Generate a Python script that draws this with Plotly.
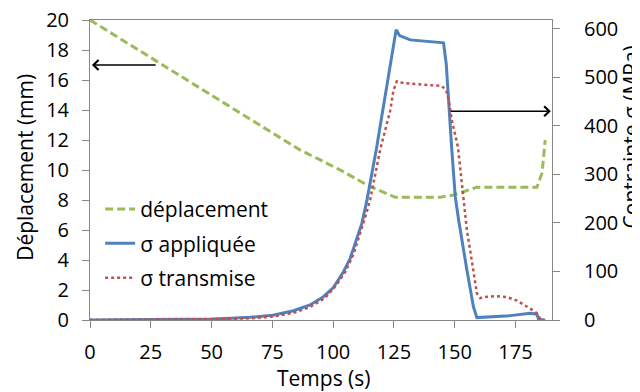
import plotly.graph_objects as go

# displacement (mm), left axis
t_dep = [0, 25, 50, 86.4, 94.7, 104.2, 113.9, 120.7, 125.5, 144, 149.5, 153.6, 159,
         183.8, 185.9, 187.2]
dep = [20, 17.5, 15.0, 11.33, 10.67, 9.89, 9.0, 8.49, 8.18, 8.18, 8.33, 8.55, 8.85,
       8.85, 9.8, 12.0]

# applied stress (MPa), right axis
t_app = [0, 20, 40, 50, 58, 65.8, 75.2, 83.7, 90.5, 96, 100.1, 104.2, 107, 109.7,
         111.8, 113.9, 117.7, 125.9, 127.3, 131.7, 138.5, 145.4, 146.5, 147.5, 148.8,
         150.2, 151.6, 155, 157.7, 159.1, 164.6, 172.8, 181, 183.8, 184.5, 187.2]
app = [0, 0.5, 1, 2, 3.5, 5.5, 10, 19, 31, 48, 67, 99, 127, 165,
       199, 247, 350, 598, 586, 577, 574, 571, 528, 446, 350,
       255, 206, 103, 27, 5, 7, 9, 14, 12, 1, 0]

# transmitted stress (MPa), right axis
t_tra = [0, 20, 40, 50, 58, 65.8, 75.2, 83.7, 90.5, 96.6, 101, 105, 108.4, 111.2,
         113.2, 115.2, 119.3, 121.4, 123.5, 124.8, 126.2, 128.9, 138.5, 144.7, 146.5,
         147.5, 148.8, 150.2, 151.3, 153.6, 155, 157, 159.1, 160.5, 163.2, 167.4,
         171.5, 175.6, 179.7, 183.1, 184.5, 185.2]
tra = [0, 0.3, 0.7, 1.5, 2.5, 3.5, 7, 15, 27, 45, 70, 99, 136, 178,
       212, 247, 350, 391, 432, 473, 492, 488, 485, 482, 473,
       453, 412, 384, 357, 250, 185, 123, 55, 45, 48, 49,
       47, 40, 27, 17, 10, 0]

FONT = "Open Sans"
GREY = "#868686"

fig = go.Figure()
fig.add_trace(go.Scatter(x=t_dep, y=dep, mode="lines", name="déplacement",
                         legendgroup="a",
                         line=dict(color="#9BBB59", width=3, dash="8px,4px")))
fig.add_trace(go.Scatter(x=t_app, y=app, mode="lines", name="σ appliquée",
                         yaxis="y2", legendgroup="b",
                         line=dict(color="#4F81BD", width=3)))
fig.add_trace(go.Scatter(x=t_tra, y=tra, mode="lines", name="σ transmise",
                         yaxis="y2", legendgroup="c",
                         line=dict(color="#C0504D", width=2.5, dash="dot")))

axis_common = dict(showgrid=False, zeroline=False, showline=True, linecolor=GREY,
                   linewidth=1, ticks="outside", tickcolor=GREY, ticklen=7,
                   automargin=False, ticklabeloverflow="allow",
                   tickfont=dict(family=FONT, size=20, color="#000000"))

# page body adds an 8px offset, margins compensate for it
fig.update_layout(
    width=640, height=392,
    margin=dict(l=82, r=96, t=12, b=80),
    paper_bgcolor="white", plot_bgcolor="white",
    font=dict(family=FONT, size=21, color="#000000"),
    xaxis=dict(range=[0, 190], tickvals=[0, 25, 50, 75, 100, 125, 150, 175],
               mirror=True, ticklabelstandoff=7, **axis_common),
    yaxis=dict(range=[0, 20], dtick=2, ticklabelstandoff=9, **axis_common),
    yaxis2=dict(range=[0, 618], tickvals=[0, 100, 200, 300, 400, 500, 600],
                overlaying="y", side="right", ticklabelstandoff=20, **axis_common),
    showlegend=True,
    legend=dict(x=0.022, y=0.437, xanchor="left", yanchor="top",
                bgcolor="rgba(0,0,0,0)", tracegroupgap=4,
                font=dict(family=FONT, size=21)),
    annotations=[
        dict(text="Temps (s)", xref="paper", yref="paper", x=0.506, y=-0.194,
             xanchor="center", yanchor="middle", showarrow=False),
        dict(text="Déplacement (mm)", xref="paper", yref="paper", x=-0.141, y=0.51,
             xanchor="center", yanchor="middle", textangle=-90, showarrow=False),
        dict(text="Contrainte σ (MPa)", xref="paper", yref="paper", x=1.172, y=0.61,
             xanchor="center", yanchor="middle", textangle=-90, showarrow=False),
        # arrows pointing to the relevant axes
        dict(x=0.8, y=17, xref="x", yref="y", ax=27.6, ay=17, axref="x", ayref="y",
             showarrow=True, arrowhead=4, arrowsize=1.3, arrowwidth=1.5,
             arrowcolor="#000000", text=""),
        dict(x=189.5, y=430, xref="x", yref="y2", ax=147.7, ay=430, axref="x",
             ayref="y2", showarrow=True, arrowhead=4, arrowsize=1.3, arrowwidth=1.5,
             arrowcolor="#000000", text=""),
    ],
)

fig.write_html("out.html")
